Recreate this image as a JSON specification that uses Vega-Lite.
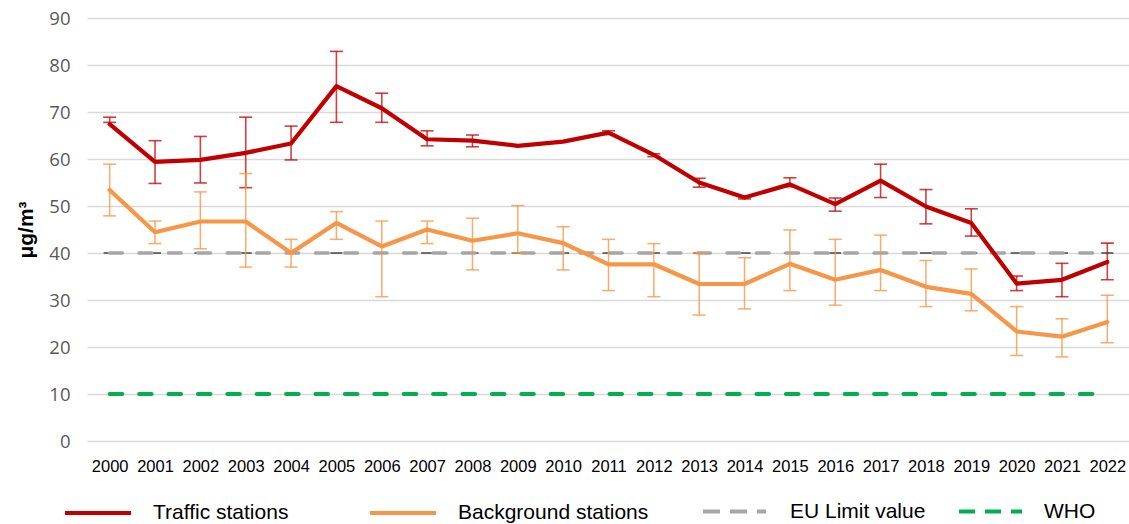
{
  "$schema": "https://vega.github.io/schema/vega-lite/v6.json",
  "width": 1043,
  "height": 423,
  "autosize": {"type": "none"},
  "padding": {"left": 87, "top": 18, "right": 0, "bottom": 83},
  "background": "white",
  "datasets": {
    "stations": [
      {"series": "Traffic stations", "year": 2000, "value": 67.4, "low": 67.8, "high": 68.9},
      {"series": "Traffic stations", "year": 2001, "value": 59.4, "low": 54.8, "high": 63.9},
      {"series": "Traffic stations", "year": 2002, "value": 59.8, "low": 54.9, "high": 64.8},
      {"series": "Traffic stations", "year": 2003, "value": 61.3, "low": 53.9, "high": 68.9},
      {"series": "Traffic stations", "year": 2004, "value": 63.3, "low": 59.8, "high": 67.0},
      {"series": "Traffic stations", "year": 2005, "value": 75.5, "low": 67.8, "high": 82.9},
      {"series": "Traffic stations", "year": 2006, "value": 70.8, "low": 67.8, "high": 74.0},
      {"series": "Traffic stations", "year": 2007, "value": 64.2, "low": 62.8, "high": 66.0},
      {"series": "Traffic stations", "year": 2008, "value": 63.9, "low": 62.6, "high": 65.1},
      {"series": "Traffic stations", "year": 2009, "value": 62.8, "low": null, "high": null},
      {"series": "Traffic stations", "year": 2010, "value": 63.7, "low": null, "high": null},
      {"series": "Traffic stations", "year": 2011, "value": 65.6, "low": 65.2, "high": 66.0},
      {"series": "Traffic stations", "year": 2012, "value": 60.9, "low": 60.5, "high": 61.1},
      {"series": "Traffic stations", "year": 2013, "value": 55.0, "low": 54.0, "high": 55.9},
      {"series": "Traffic stations", "year": 2014, "value": 51.8, "low": 51.5, "high": 52.0},
      {"series": "Traffic stations", "year": 2015, "value": 54.6, "low": 54.1, "high": 56.0},
      {"series": "Traffic stations", "year": 2016, "value": 50.4, "low": 48.9, "high": 51.7},
      {"series": "Traffic stations", "year": 2017, "value": 55.4, "low": 51.8, "high": 58.9},
      {"series": "Traffic stations", "year": 2018, "value": 49.9, "low": 46.2, "high": 53.5},
      {"series": "Traffic stations", "year": 2019, "value": 46.4, "low": 43.6, "high": 49.4},
      {"series": "Traffic stations", "year": 2020, "value": 33.5, "low": 32.0, "high": 35.1},
      {"series": "Traffic stations", "year": 2021, "value": 34.3, "low": 30.7, "high": 37.8},
      {"series": "Traffic stations", "year": 2022, "value": 38.1, "low": 34.3, "high": 42.1},
      {"series": "Background stations", "year": 2000, "value": 53.4, "low": 47.9, "high": 58.9},
      {"series": "Background stations", "year": 2001, "value": 44.4, "low": 42.0, "high": 46.8},
      {"series": "Background stations", "year": 2002, "value": 46.7, "low": 40.9, "high": 53.0},
      {"series": "Background stations", "year": 2003, "value": 46.7, "low": 37.0, "high": 56.9},
      {"series": "Background stations", "year": 2004, "value": 40.0, "low": 37.0, "high": 42.9},
      {"series": "Background stations", "year": 2005, "value": 46.4, "low": 42.9, "high": 48.8},
      {"series": "Background stations", "year": 2006, "value": 41.4, "low": 30.7, "high": 46.8},
      {"series": "Background stations", "year": 2007, "value": 45.0, "low": 42.0, "high": 46.8},
      {"series": "Background stations", "year": 2008, "value": 42.6, "low": 36.4, "high": 47.4},
      {"series": "Background stations", "year": 2009, "value": 44.2, "low": 40.0, "high": 50.1},
      {"series": "Background stations", "year": 2010, "value": 42.1, "low": 36.4, "high": 45.6},
      {"series": "Background stations", "year": 2011, "value": 37.6, "low": 32.0, "high": 42.9},
      {"series": "Background stations", "year": 2012, "value": 37.6, "low": 30.7, "high": 42.0},
      {"series": "Background stations", "year": 2013, "value": 33.4, "low": 26.8, "high": 40.0},
      {"series": "Background stations", "year": 2014, "value": 33.4, "low": 28.1, "high": 39.0},
      {"series": "Background stations", "year": 2015, "value": 37.7, "low": 32.0, "high": 44.9},
      {"series": "Background stations", "year": 2016, "value": 34.3, "low": 28.9, "high": 42.9},
      {"series": "Background stations", "year": 2017, "value": 36.4, "low": 32.0, "high": 43.8},
      {"series": "Background stations", "year": 2018, "value": 32.8, "low": 28.6, "high": 38.4},
      {"series": "Background stations", "year": 2019, "value": 31.3, "low": 27.7, "high": 36.6},
      {"series": "Background stations", "year": 2020, "value": 23.3, "low": 18.2, "high": 28.6},
      {"series": "Background stations", "year": 2021, "value": 22.2, "low": 17.9, "high": 26.0},
      {"series": "Background stations", "year": 2022, "value": 25.3, "low": 20.9, "high": 31.0}
    ],
    "limits": [
      {"series": "EU Limit value", "year": 2000, "value": 40}, {"series": "EU Limit value", "year": 2001, "value": 40},
      {"series": "EU Limit value", "year": 2002, "value": 40}, {"series": "EU Limit value", "year": 2003, "value": 40},
      {"series": "EU Limit value", "year": 2004, "value": 40}, {"series": "EU Limit value", "year": 2005, "value": 40},
      {"series": "EU Limit value", "year": 2006, "value": 40}, {"series": "EU Limit value", "year": 2007, "value": 40},
      {"series": "EU Limit value", "year": 2008, "value": 40}, {"series": "EU Limit value", "year": 2009, "value": 40},
      {"series": "EU Limit value", "year": 2010, "value": 40}, {"series": "EU Limit value", "year": 2011, "value": 40},
      {"series": "EU Limit value", "year": 2012, "value": 40}, {"series": "EU Limit value", "year": 2013, "value": 40},
      {"series": "EU Limit value", "year": 2014, "value": 40}, {"series": "EU Limit value", "year": 2015, "value": 40},
      {"series": "EU Limit value", "year": 2016, "value": 40}, {"series": "EU Limit value", "year": 2017, "value": 40},
      {"series": "EU Limit value", "year": 2018, "value": 40}, {"series": "EU Limit value", "year": 2019, "value": 40},
      {"series": "EU Limit value", "year": 2020, "value": 40}, {"series": "EU Limit value", "year": 2021, "value": 40},
      {"series": "EU Limit value", "year": 2022, "value": 40},
      {"series": "WHO", "year": 2000, "value": 10}, {"series": "WHO", "year": 2001, "value": 10},
      {"series": "WHO", "year": 2002, "value": 10}, {"series": "WHO", "year": 2003, "value": 10},
      {"series": "WHO", "year": 2004, "value": 10}, {"series": "WHO", "year": 2005, "value": 10},
      {"series": "WHO", "year": 2006, "value": 10}, {"series": "WHO", "year": 2007, "value": 10},
      {"series": "WHO", "year": 2008, "value": 10}, {"series": "WHO", "year": 2009, "value": 10},
      {"series": "WHO", "year": 2010, "value": 10}, {"series": "WHO", "year": 2011, "value": 10},
      {"series": "WHO", "year": 2012, "value": 10}, {"series": "WHO", "year": 2013, "value": 10},
      {"series": "WHO", "year": 2014, "value": 10}, {"series": "WHO", "year": 2015, "value": 10},
      {"series": "WHO", "year": 2016, "value": 10}, {"series": "WHO", "year": 2017, "value": 10},
      {"series": "WHO", "year": 2018, "value": 10}, {"series": "WHO", "year": 2019, "value": 10},
      {"series": "WHO", "year": 2020, "value": 10}, {"series": "WHO", "year": 2021, "value": 10},
      {"series": "WHO", "year": 2022, "value": 10}
    ]
  },
  "encoding": {
    "x": {"field": "year", "type": "ordinal", "title": null, "scale": {"type": "point", "padding": 0.5}},
    "y": {"field": "value", "type": "quantitative", "title": "μg/m³", "scale": {"domain": [0, 90]}}
  },
  "layer": [
    {
      "data": {"name": "limits"},
      "transform": [{"filter": "datum.series == 'EU Limit value'"}],
      "mark": {"type": "tick", "orient": "horizontal", "size": 12, "thickness": 1.5, "color": "#000000"}
    },
    {
      "data": {"name": "limits"},
      "transform": [{"filter": "datum.series == 'EU Limit value'"}],
      "mark": {"type": "line", "strokeWidth": 3.6, "strokeDash": [12.6, 16.8], "strokeCap": "round"},
      "encoding": {
        "color": {"field": "series", "type": "nominal", "scale": {"domain": ["EU Limit value"], "range": ["#A6A6A6"]},
          "legend": {"orient": "none", "legendX": 614, "legendY": 460, "title": null, "padding": 0, "symbolSize": 3969, "symbolStrokeWidth": 4, "symbolDash": [17, 10], "labelOffset": 22, "labelLimit": 0, "labelFont": "Liberation Sans", "labelFontSize": 21, "labelColor": "#000000"}}
      }
    },
    {
      "data": {"name": "limits"},
      "transform": [{"filter": "datum.series == 'WHO'"}],
      "mark": {"type": "line", "strokeWidth": 4, "strokeDash": [12.6, 16.8], "strokeCap": "round"},
      "encoding": {
        "color": {"field": "series", "type": "nominal", "scale": {"domain": ["WHO"], "range": ["#00B050"]},
          "legend": {"orient": "none", "legendX": 870, "legendY": 460, "title": null, "padding": 0, "symbolSize": 3969, "symbolStrokeWidth": 4, "symbolDash": [16, 10], "labelOffset": 20, "labelLimit": 0, "labelFont": "Liberation Sans", "labelFontSize": 21, "labelColor": "#000000"}}
      }
    },
    {
      "data": {"name": "stations"},
      "transform": [{"filter": "datum.series == 'Traffic stations' && datum.low != null"}],
      "mark": {"type": "rule", "color": "#C00000", "opacity": 0.75, "strokeWidth": 1.6},
      "encoding": {
        "y": {"field": "low", "type": "quantitative", "title": "μg/m³", "scale": {"domain": [0, 90]}},
        "y2": {"field": "high"}
      }
    },
    {
      "data": {"name": "stations"},
      "transform": [{"filter": "datum.series == 'Traffic stations' && datum.low != null"}],
      "mark": {"type": "tick", "orient": "horizontal", "size": 13, "thickness": 1.6, "color": "#C00000", "opacity": 0.75},
      "encoding": {"y": {"field": "low", "type": "quantitative", "title": "μg/m³", "scale": {"domain": [0, 90]}}}
    },
    {
      "data": {"name": "stations"},
      "transform": [{"filter": "datum.series == 'Traffic stations' && datum.high != null"}],
      "mark": {"type": "tick", "orient": "horizontal", "size": 13, "thickness": 1.6, "color": "#C00000", "opacity": 0.75},
      "encoding": {"y": {"field": "high", "type": "quantitative", "title": "μg/m³", "scale": {"domain": [0, 90]}}}
    },
    {
      "data": {"name": "stations"},
      "transform": [{"filter": "datum.series == 'Background stations' && datum.low != null"}],
      "mark": {"type": "rule", "color": "#F79646", "opacity": 0.8, "strokeWidth": 1.5},
      "encoding": {
        "y": {"field": "low", "type": "quantitative", "title": "μg/m³", "scale": {"domain": [0, 90]}},
        "y2": {"field": "high"}
      }
    },
    {
      "data": {"name": "stations"},
      "transform": [{"filter": "datum.series == 'Background stations' && datum.low != null"}],
      "mark": {"type": "tick", "orient": "horizontal", "size": 13, "thickness": 1.5, "color": "#F79646", "opacity": 0.8},
      "encoding": {"y": {"field": "low", "type": "quantitative", "title": "μg/m³", "scale": {"domain": [0, 90]}}}
    },
    {
      "data": {"name": "stations"},
      "transform": [{"filter": "datum.series == 'Background stations' && datum.high != null"}],
      "mark": {"type": "tick", "orient": "horizontal", "size": 13, "thickness": 1.5, "color": "#F79646", "opacity": 0.8},
      "encoding": {"y": {"field": "high", "type": "quantitative", "title": "μg/m³", "scale": {"domain": [0, 90]}}}
    },
    {
      "data": {"name": "stations"},
      "transform": [{"filter": "datum.series == 'Traffic stations'"}],
      "mark": {"type": "line", "strokeWidth": 4.2, "strokeJoin": "round", "strokeCap": "round"},
      "encoding": {
        "color": {"field": "series", "type": "nominal", "scale": {"domain": ["Traffic stations"], "range": ["#C00000"]},
          "legend": {"orient": "none", "legendX": -24, "legendY": 460, "title": null, "padding": 0, "symbolSize": 4356, "symbolStrokeWidth": 4, "labelOffset": 20, "labelLimit": 0, "labelFont": "Liberation Sans", "labelFontSize": 21, "labelColor": "#000000"}}
      }
    },
    {
      "data": {"name": "stations"},
      "transform": [{"filter": "datum.series == 'Background stations'"}],
      "mark": {"type": "line", "strokeWidth": 4.2, "strokeJoin": "round", "strokeCap": "round"},
      "encoding": {
        "color": {"field": "series", "type": "nominal", "scale": {"domain": ["Background stations"], "range": ["#F79646"]},
          "legend": {"orient": "none", "legendX": 281, "legendY": 460, "title": null, "padding": 0, "symbolSize": 4356, "symbolStrokeWidth": 4, "labelOffset": 20, "labelLimit": 0, "labelFont": "Liberation Sans", "labelFontSize": 21, "labelColor": "#000000"}}
      }
    }
  ],
  "resolve": {"scale": {"color": "independent"}, "legend": {"color": "independent"}},
  "config": {
    "view": {"stroke": null},
    "axisY": {
      "tickCount": 10,
      "grid": true,
      "gridColor": "#D9D9D9",
      "gridWidth": 1.5,
      "domain": false,
      "ticks": false,
      "tickSize": 0,
      "labelPadding": 17,
      "labelFont": "Open Sans",
      "labelFontSize": 18.5,
      "labelColor": "#595959",
      "titleFont": "Liberation Sans",
      "titleFontWeight": "bold",
      "titleFontSize": 21,
      "titleColor": "#000000",
      "titleX": -61,
      "titleY": 211.5,
      "titleBaseline": "middle"
    },
    "axisX": {
      "domain": false,
      "ticks": false,
      "tickSize": 0,
      "grid": false,
      "labelAngle": 0,
      "labelOverlap": false,
      "labelPadding": 17,
      "labelFont": "Liberation Sans",
      "labelFontSize": 16.5,
      "labelColor": "#000000"
    }
  }
}
